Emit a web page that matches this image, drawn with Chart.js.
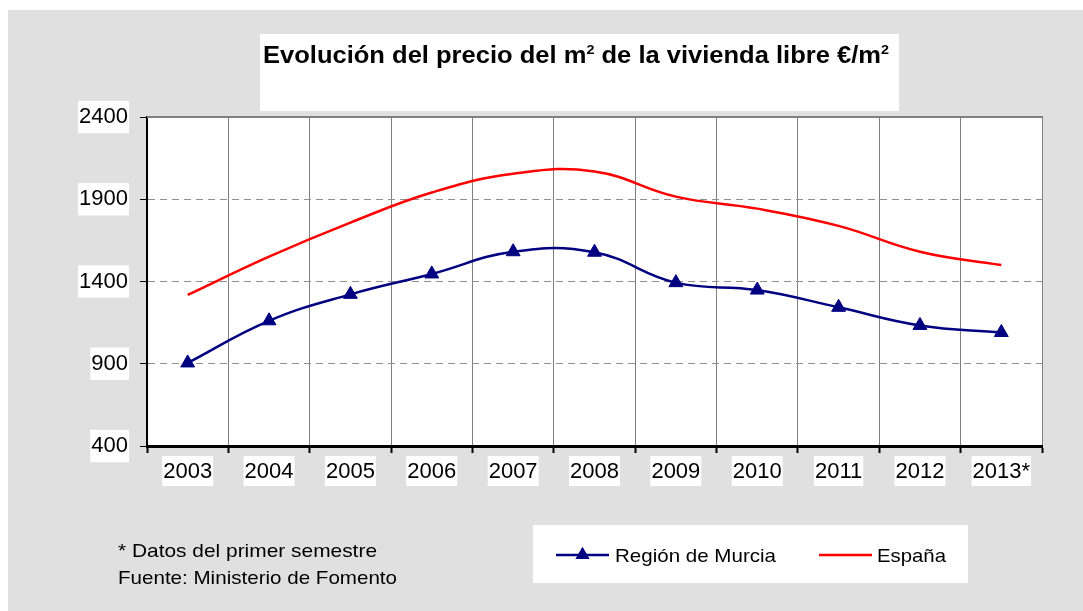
<!DOCTYPE html>
<html><head><meta charset="utf-8">
<script src="https://cdn.jsdelivr.net/npm/chart.js@4.4.1/dist/chart.umd.min.js"></script>
<style>html,body{margin:0;padding:0;background:#fff;overflow:hidden}#wrap{position:relative;width:1083px;height:611px}</style>
</head><body><div id="wrap"><canvas id="c" width="1083" height="611"></canvas></div>
<script>
const categories = ['2003','2004','2005','2006','2007','2008','2009','2010','2011','2012','2013*'];
const murcia = [905,1161,1322,1446,1581,1578,1393,1348,1243,1133,1090];
const espana = [1318,1551,1758,1941,2055,2069,1916,1843,1738,1581,1500];
const yTicks = [400,900,1400,1900,2400];
const seriesNames = ['Región de Murcia','España'];
const titleParts = [['Evolución del precio del m',false],['2',true],[' de la vivienda libre €/m',false],['2',true]];
const footnotes = ['* Datos del primer semestre','Fuente: Ministerio de Fomento'];

const FONT = "'Liberation Sans', Arial, sans-serif";

function stretchText(c, text, x, y, font, targetW){
  c.font = font;
  const w = c.measureText(text).width;
  const k = targetW ? targetW / w : 1;
  c.save(); c.translate(x, y); c.scale(k, 1); c.fillText(text, 0, 0); c.restore();
}

const decor = {
  id:'decor',
  beforeDraw(chart){
    const c = chart.ctx, a = chart.chartArea;
    c.save();
    c.fillStyle = '#fff'; c.fillRect(0,0,chart.width,chart.height);
    c.fillStyle = '#e0e0e0'; c.fillRect(8,10,chart.width-8,chart.height-10);
    c.fillStyle = '#fff'; c.fillRect(a.left,a.top,a.right-a.left,a.bottom-a.top);
    c.fillRect(260,34,639,77);
    // title
    const fontFor = s => s ? 'bold 13px '+FONT : 'bold 23px '+FONT;
    let w = 0;
    titleParts.forEach(([t,s])=>{c.font=fontFor(s); w+=c.measureText(t).width;});
    const k = 626 / w;
    c.translate(263, 0); c.scale(k, 1);
    let x = 0;
    c.fillStyle = '#000'; c.textBaseline='alphabetic'; c.textAlign='left';
    titleParts.forEach(([t,s])=>{c.font=fontFor(s); c.fillText(t,x,s?54:63); x+=c.measureText(t).width;});
    c.restore();
  },
  beforeDatasetsDraw(chart){
    const c = chart.ctx, a = chart.chartArea;
    c.save();
    c.strokeStyle='#808080'; c.lineWidth=2;
    c.beginPath(); c.moveTo(a.left,a.top); c.lineTo(a.right+1,a.top); c.stroke();
    c.restore();
  },
  afterDraw(chart){
    const c = chart.ctx;
    c.save();
    // footnotes
    c.fillStyle='#000'; c.textBaseline='alphabetic'; c.textAlign='left';
    const fw = [259, 279];
    footnotes.forEach((t,i)=>stretchText(c,t,118,557+i*27,'19px '+FONT,fw[i]));
    // legend
    c.fillStyle='#fff'; c.fillRect(533,525,435,58);
    const ds = chart.data.datasets;
    const items = [[556,609,615,161],[819,872,877,69]];
    ds.forEach((d,i)=>{
      const [x1,x2,tx,tw] = items[i], y=555;
      c.strokeStyle=d.borderColor; c.lineWidth=d.borderWidth;
      c.beginPath(); c.moveTo(x1,y); c.lineTo(x2,y); c.stroke();
      if (d.pointRadius>0){
        c.fillStyle=d.pointBackgroundColor;
        Chart.helpers.drawPoint(c,{pointStyle:'triangle',radius:d.pointRadius,borderWidth:0},(x1+x2)/2,y);
        c.fill();
      }
      c.fillStyle='#000';
      stretchText(c,d.label,tx,562,'19px '+FONT,tw);
    });
    c.restore();
  }
};

new Chart(document.getElementById('c'),{
  type:'line',
  data:{labels:categories,datasets:[
    {label:seriesNames[0],data:murcia,borderColor:'#000080',backgroundColor:'#000080',borderWidth:2.5,
     pointStyle:'triangle',pointRadius:8,pointHoverRadius:8,pointBackgroundColor:'#000080',pointBorderColor:'#000080',pointBorderWidth:1,tension:0.42,fill:false},
    {label:seriesNames[1],data:espana,borderColor:'#ff0000',backgroundColor:'#ff0000',borderWidth:2.5,
     pointRadius:0,pointHoverRadius:0,tension:0.42,fill:false}
  ]},
  options:{
    responsive:false,animation:false,devicePixelRatio:1,
    layout:{padding:{left:0,right:41,top:117,bottom:125}},
    plugins:{legend:{display:false},title:{display:false},tooltip:{enabled:false}},
    events:[],
    scales:{
      x:{offset:true,
        grid:{offset:true,color:ctx=>ctx.index===0?'rgba(0,0,0,0)':'#808080',lineWidth:ctx=>ctx.index===categories.length?2:1,
          tickLength:7,tickColor:'#000',tickWidth:2},
        border:{color:'#000',width:3},
        ticks:{font:{family:FONT,size:22},color:'#000',padding:6,maxRotation:0,autoSkip:false,
          showLabelBackdrop:true,backdropColor:'#fff',backdropPadding:{top:3,bottom:3,left:1,right:1}},
        afterFit:s=>{s.height=40;}
      },
      y:{min:400,max:2400,
        afterBuildTicks:s=>{s.ticks=yTicks.map(v=>({value:v}));},
        afterFit:s=>{s.width=147;},
        border:{color:'#000',width:2,dash:[7,5]},
        grid:{color:ctx=>(ctx.tick&&(ctx.tick.value===400||ctx.tick.value===2400))?'rgba(0,0,0,0)':'#909090',
          lineWidth:1,tickLength:7,tickColor:'#000',tickWidth:1},
        ticks:{font:{family:FONT,size:22},color:'#000',padding:12,callback:v=>String(v),
          showLabelBackdrop:true,backdropColor:'#fff',backdropPadding:{top:3,bottom:3,left:1,right:1}}
      }
    }
  },
  plugins:[decor]
});
</script></body></html>
